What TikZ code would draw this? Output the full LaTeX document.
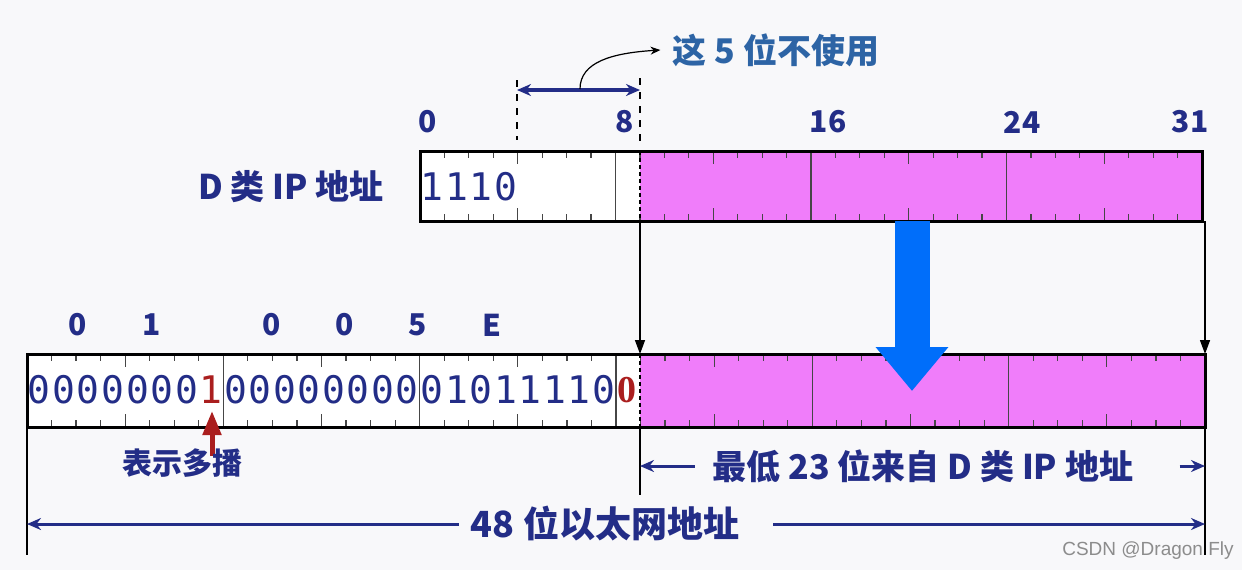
\documentclass[tikz,border=0pt]{standalone}
\usepackage{fontspec}
\usetikzlibrary{arrows.meta}
\newfontfamily\cjk{Noto Sans CJK SC}
\newfontfamily\bitfont{DejaVu Sans Mono}
\newfontfamily\serifbit{Liberation Serif}
\newfontfamily\markfont{Liberation Sans}
\definecolor{navy}{RGB}{35,45,135}
\definecolor{steel}{RGB}{45,100,165}
\definecolor{pinkfill}{RGB}{240,125,250}
\definecolor{bigblue}{RGB}{0,110,250}
\definecolor{darkred}{RGB}{170,30,30}
\definecolor{bg}{RGB}{248,248,250}
\definecolor{tickgray}{RGB}{70,70,70}
\tikzset{
  box/.style={draw=black, line width=1.5pt, inner sep=0pt, outer sep=0pt, anchor=north west},
  bit/.style={font=\bitfont\fontsize{19}{22}\selectfont, inner sep=0pt},
  hdr/.style={font=\cjk\bfseries\fontsize{15}{18}\selectfont, text=navy, inner sep=0pt},
  caption/.style={font=\cjk\bfseries\fontsize{17}{20}\selectfont, text=navy, inner sep=0pt},
  tick/.style={draw=tickgray, line width=0.6pt},
  octet/.style={draw=tickgray, line width=0.6pt},
  splitline/.style={draw=black, line width=0.6pt, dash pattern=on 2pt off 1.5pt},
  guide/.style={draw=black, line width=0.7pt},
  dropline/.style={draw=black, line width=0.7pt, -{Triangle[length=7pt,width=5pt]}},
  dimline/.style={draw=navy, line width=1.5pt, -{Stealth[length=7pt,width=6pt]}},
  dashguide/.style={draw=black, line width=0.7pt, dash pattern=on 3.5pt off 3.5pt}
}
\begin{document}
\begin{tikzpicture}[x=0.5pt,y=-0.5pt]
\fill[bg] (0,0) rectangle (1242,570);
\useasboundingbox (0,0) rectangle (1242,570);
\coordinate (cut) at (640,300);

% class D address, 32 bits
\fill[white] (420,151) rectangle (640,221);
\fill[pinkfill] (640,151) rectangle (1202,221);
\foreach \b in {1,...,31}{
  \pgfmathsetmacro\tl{mod(\b,4)==0 ? 13 : 7}
  \draw[tick] (420+\b*24.4375,151) -- ++(0,\tl);
  \draw[tick] (420+\b*24.4375,221) -- ++(0,-\tl);
}
\foreach \b in {8,16,24}
  \draw[octet] (420+\b*24.4375,151) -- (420+\b*24.4375,221);
\draw[splitline] (640,151) -- (640,221);
\node[box, minimum width=391pt, minimum height=35pt] (dbox) at (420,151) {};
\foreach \v [count=\i from 0] in {1,1,1,0}
  \node[bit, text=navy] (dbit-\i) at (420+\i*24.4375+12.2,187) {\v};
\node[caption] (dlabel) at (291,187) {D 类 IP 地址};
\foreach \t/\x in {0/428,8/625,16/828,24/1022,31/1190}
  \node[hdr] (pos-\t) at (\x,122) {\t};

% the 5 unused bits
\coordinate (five-l) at (517,90);
\coordinate (five-r) at (640,90);
\draw[dashguide] (517,80) -- (517,140);
\draw[dashguide] (640,78) -- (640,146);
\draw[dimline, {Stealth[length=7pt,width=6pt]}-{Stealth[length=7pt,width=6pt]}, line width=2pt] (five-l) -- (five-r);
\node[font=\cjk\bfseries\fontsize{17}{20}\selectfont, text=steel, inner sep=0pt] (unused) at (776,50) {这 5 位不使用};
\coordinate (curve-start) at (580,89);
\draw[black, line width=0.6pt, -{Stealth[length=5pt,width=4pt]}] (curve-start) .. controls (580,62) and (612,53) .. ([xshift=-6pt]unused.west);

% 48-bit ethernet address
\fill[white] (27,354) rectangle (640,427);
\fill[pinkfill] (640,354) rectangle (1205,427);
\foreach \b in {1,...,47}{
  \pgfmathsetmacro\tl{mod(\b,4)==0 ? 13 : 7}
  \draw[tick] (27+\b*24.5417,354) -- ++(0,\tl);
  \draw[tick] (27+\b*24.5417,427) -- ++(0,-\tl);
}
\foreach \b in {8,16,24,32,40}
  \draw[octet] (27+\b*24.5417,354) -- (27+\b*24.5417,427);
\draw[splitline] (640,354) -- (640,427);
\node[box, minimum width=589pt, minimum height=36.5pt] (ebox) at (27,354) {};
\foreach \v [count=\i from 0] in {0,0,0,0,0,0,0,1,0,0,0,0,0,0,0,0,0,1,0,1,1,1,1,0}{
  \ifnum\i=7 \def\bc{darkred}\else\def\bc{navy}\fi
  \node[bit, text=\bc] (ebit-\i) at (27+\i*24.5417+12.3,390) {\v};
}
\node[font=\serifbit\bfseries\fontsize{19}{22}\selectfont, text=darkred, inner sep=0pt] (ebit-24) at (627,390) {0};
\foreach \t/\x [count=\i] in {0/78,1/152,0/272,0/345,5/418,E/492}
  \node[hdr] (hex-\i) at (\x,325) {\t};

% big blue arrow
\coordinate (blue-top) at (912,221);
\coordinate (blue-tip) at (912,391);
\draw[bigblue, line width=17.5pt, -{Triangle[length=22pt,width=35pt]}] (blue-top) -- (blue-tip);

% drop lines
\draw[dropline] (dbox.south -| cut) -- (ebox.north -| cut);
\draw[dropline] (ebox.north east |- dbox.south) -- (ebox.north east);
\draw[guide] (ebox.south -| cut) -- ++(0,68);
\draw[guide] (ebox.south east) -- ++(0,128);
\draw[guide] (ebox.south west) -- ++(0,128);

% multicast bit
\coordinate (mc-tail) at (212,456);
\draw[darkred, line width=2.5pt, -{Triangle[length=12pt,width=9pt]}] (mc-tail) -- (212,411);
\node[font=\cjk\bfseries\fontsize{15}{18}\selectfont, text=navy, inner sep=0pt] (multicast) at (182,463) {表示多播};

% spans
\node[caption, fill=bg, inner xsep=1pt] (low23) at (923,466) {最低 23 位来自 D 类 IP 地址};
\draw[dimline] ([xshift=-8pt]low23.west) -- (low23.west -| cut);
\draw[dimline] ([xshift=22pt]low23.east) -- (low23.east -| ebox.east);
\node[caption, font=\cjk\bfseries\fontsize{18}{21}\selectfont] (eth48) at (605,524) {48 位以太网地址};
\draw[dimline] ([xshift=-6pt]eth48.west) -- (eth48.west -| ebox.west);
\draw[dimline] ([xshift=17pt]eth48.east) -- (eth48.east -| ebox.east);

\node[font=\markfont\fontsize{9.5}{11}\selectfont, text=black!45, inner sep=0pt] (mark) at (1148,551) {CSDN @Dragon Fly};
\end{tikzpicture}
\end{document}
